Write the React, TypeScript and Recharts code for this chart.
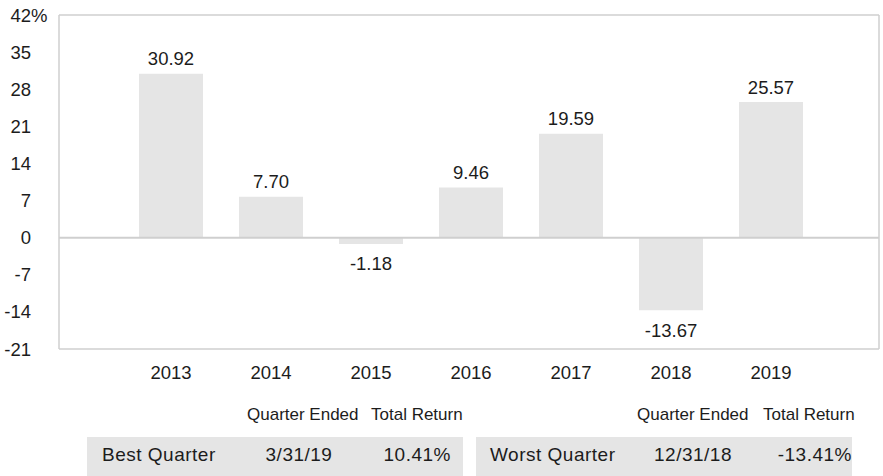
import { BarChart, Bar, XAxis, YAxis, ReferenceLine, LabelList } from "recharts";

const YEARS = ["2013", "2014", "2015", "2016", "2017", "2018", "2019"];
const RETURNS = [30.92, 7.7, -1.18, 9.46, 19.59, -13.67, 25.57];
const Y_TICKS = [-21, -14, -7, 0, 7, 14, 21, 28, 35, 42];

const BEST = { label: "Best Quarter", date: "3/31/19", value: "10.41%" };
const WORST = { label: "Worst Quarter", date: "12/31/18", value: "-13.41%" };

const FONT = '"Liberation Sans", Arial, Helvetica, sans-serif';
const INK = "#1c1c1c";
const FRAME = "#cfcfcf";
const BAR_FILL = "#e5e5e5";

const data = YEARS.map((year, i) => ({ year, value: RETURNS[i] }));

// y-axis numbers are right-aligned, the % on the top tick hangs off to the right
const YTick = (props: any) => {
  const { y, payload } = props;
  const isTop = payload.value === Y_TICKS[Y_TICKS.length - 1];
  return (
    <g>
      <text x={31} y={y} textAnchor="end" dominantBaseline="central" fontSize={18.5} fill={INK} fontFamily={FONT}>
        {payload.value}
      </text>
      {isTop && (
        <text x={31} y={y} textAnchor="start" dominantBaseline="central" fontSize={18.5} fill={INK} fontFamily={FONT}>
          %
        </text>
      )}
    </g>
  );
};

const ValueLabel = (props: any) => {
  const { x, y, width, height, value } = props;
  const top = Math.min(y, y + height);
  const bottom = Math.max(y, y + height);
  const ly = value >= 0 ? top - 15 : bottom + 20;
  return (
    <text x={x + width / 2} y={ly} textAnchor="middle" dominantBaseline="central" fontSize={18.5} fill={INK} fontFamily={FONT}>
      {Number(value).toFixed(2)}
    </text>
  );
};

const cell = { position: "absolute" as const, top: 444, fontSize: 19, color: INK, letterSpacing: 0.5, whiteSpace: "nowrap" as const };

// cols: label left, date centre, value right edge
function QuarterBox({ left, width, row, cols }: { left: number; width: number; row: typeof BEST; cols: number[] }) {
  return (
    <>
      <div style={{ position: "absolute", left, top: 437, width, height: 39, background: BAR_FILL }} />
      <div style={{ ...cell, left: cols[0] }}>{row.label}</div>
      <div style={{ ...cell, left: cols[1] - 60, width: 120, textAlign: "center" }}>{row.date}</div>
      <div style={{ ...cell, left: cols[2] - 120, width: 120, textAlign: "right" }}>{row.value}</div>
    </>
  );
}

const head = { position: "absolute" as const, top: 405, fontSize: 17, color: INK, whiteSpace: "nowrap" as const };

export default function App() {
  return (
    <div style={{ position: "absolute", left: 0, top: 0, width: 883, height: 476, background: "#fff", fontFamily: FONT }}>
      <BarChart width={883} height={395} data={data} margin={{ top: 15, right: 0, left: 0, bottom: 0 }}>
        <XAxis
          dataKey="year"
          height={46}
          padding={{ left: 62, right: 58 }}
          axisLine={{ stroke: FRAME, strokeWidth: 1.5 }}
          tickLine={false}
          tickMargin={11}
          tick={{ fontSize: 18.5, fill: INK, fontFamily: FONT }}
        />
        <YAxis
          width={59}
          domain={[-21, 42]}
          ticks={Y_TICKS}
          interval={0}
          axisLine={{ stroke: FRAME, strokeWidth: 1.5 }}
          tickLine={false}
          tick={<YTick />}
        />
        <YAxis
          yAxisId="right"
          orientation="right"
          width={4}
          domain={[-21, 42]}
          axisLine={{ stroke: FRAME, strokeWidth: 1.5 }}
          tick={false}
          tickLine={false}
        />
        <ReferenceLine y={42} stroke={FRAME} strokeWidth={1.5} />
        <ReferenceLine y={0} stroke={FRAME} strokeWidth={2} />
        <Bar dataKey="value" fill={BAR_FILL} barSize={64} isAnimationActive={false}>
          <LabelList dataKey="value" content={<ValueLabel />} />
        </Bar>
      </BarChart>

      <div style={{ ...head, left: 247 }}>Quarter Ended</div>
      <div style={{ ...head, left: 371 }}>Total Return</div>
      <div style={{ ...head, left: 637 }}>Quarter Ended</div>
      <div style={{ ...head, left: 763 }}>Total Return</div>

      <QuarterBox left={87} width={376} row={BEST} cols={[102, 299, 451]} />
      <QuarterBox left={476} width={376} row={WORST} cols={[490, 693, 852]} />
    </div>
  );
}
